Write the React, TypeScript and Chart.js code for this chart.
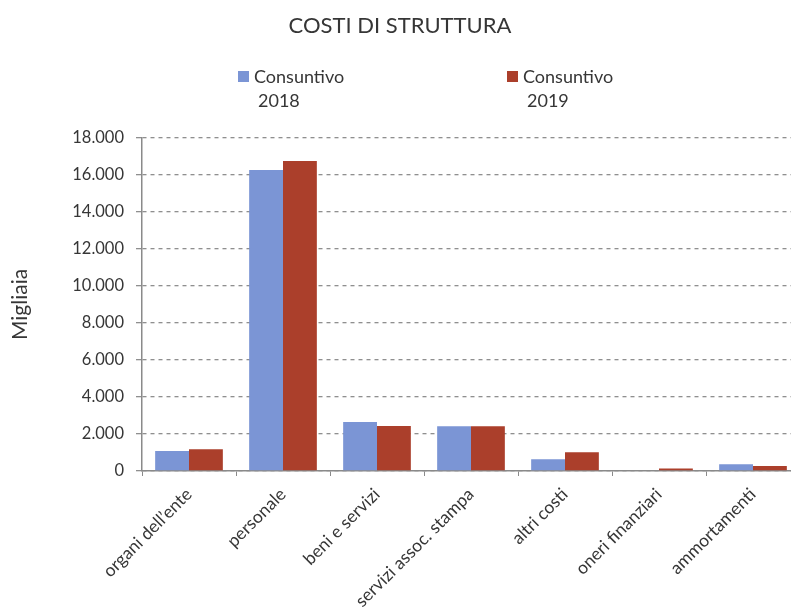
import React, { useEffect, useRef } from "react";
import { Chart, registerables } from "chart.js";

Chart.register(...registerables);

const titleText = "COSTI DI STRUTTURA";
const yAxisTitle = "Migliaia";
const categories = [
  "organi dell’ente",
  "personale",
  "beni e servizi",
  "servizi assoc. stampa",
  "altri costi",
  "oneri finanziari",
  "ammortamenti",
];
const values2018 = [1080, 16270, 2650, 2420, 630, 40, 360];
const values2019 = [1170, 16760, 2430, 2420, 1010, 130, 270];
const seriesNames = [
  ["Consuntivo", "2018"],
  ["Consuntivo", "2019"],
];
const seriesColors = ["#7b95d5", "#ab3f2b"];
const yMin = 0;
const yMax = 18000;
const yStep = 2000;

const FONT = "Lato, 'DejaVu Sans', sans-serif";
const TEXT = "#363636";

function fmt(v: number) {
  return String(Math.round(v)).replace(/\B(?=(\d{3})+(?!\d))/g, ".");
}

const overlayPlugin = {
  id: "overlay",
  afterDraw(chart: any) {
    const ctx = chart.ctx;
    ctx.save();
    ctx.fillStyle = TEXT;
    ctx.textBaseline = "alphabetic";
    ctx.font = `22px ${FONT}`;
    ctx.textAlign = "center";
    ctx.fillText(titleText, 400, 33);

    const legendX = [238, 507];
    ctx.font = `18px ${FONT}`;
    ctx.textAlign = "left";
    seriesNames.forEach((lines, i) => {
      const x = legendX[i];
      ctx.fillStyle = seriesColors[i];
      ctx.fillRect(x, 71, 11, 11);
      ctx.fillStyle = TEXT;
      ctx.fillText(lines[0], x + 16, 83);
      ctx.fillText(lines[1], x + 20, 107);
    });
    ctx.restore();
  },
};

export default function App() {
  const ref = useRef<HTMLCanvasElement | null>(null);
  useEffect(() => {
    if (!ref.current) return;
    const chart = new Chart(ref.current, {
      type: "bar",
      data: {
        labels: categories,
        datasets: [
          {
            label: seriesNames[0].join(" "),
            data: values2018,
            backgroundColor: seriesColors[0],
            categoryPercentage: 0.72,
            barPercentage: 1,
          },
          {
            label: seriesNames[1].join(" "),
            data: values2019,
            backgroundColor: seriesColors[1],
            categoryPercentage: 0.72,
            barPercentage: 1,
          },
        ],
      },
      options: {
        animation: false,
        responsive: true,
        maintainAspectRatio: false,
        layout: { padding: { top: 138, left: 0, right: 0, bottom: 0 } },
        plugins: {
          legend: { display: false },
          title: { display: false },
          tooltip: { enabled: false },
        },
        scales: {
          x: {
            grid: {
              display: true,
              drawOnChartArea: false,
              drawTicks: true,
              tickLength: 5,
              color: "#8a8a8a",
              offset: true,
            },
            border: { display: true, color: "#8a8a8a", width: 1.5 },
            ticks: {
              maxRotation: 45,
              minRotation: 45,
              autoSkip: false,
              color: TEXT,
              font: { family: FONT, size: 17.5 },
              padding: 8,
            },
            afterFit(scale: any) {
              scale.height = 143;
            },
          },
          y: {
            min: yMin,
            max: yMax,
            ticks: {
              stepSize: yStep,
              color: TEXT,
              font: { family: FONT, size: 16.5 },
              padding: 12,
              callback: (v: any) => fmt(Number(v)),
            },
            grid: {
              color: "#8f8f8f",
              lineWidth: 1.3,
              tickLength: 6,
            },
            border: { display: true, color: "#8a8a8a", width: 1.5, dash: [4, 4] },
            title: {
              display: true,
              text: yAxisTitle,
              color: TEXT,
              font: { family: FONT, size: 21 },
              padding: { top: 8, bottom: 0 },
            },
            afterFit(scale: any) {
              scale.width = 142;
            },
          },
        },
      },
      plugins: [overlayPlugin],
    } as any);
    return () => chart.destroy();
  }, []);

  return (
    <div
      style={{
        position: "fixed",
        left: 0,
        top: 0,
        width: 791,
        height: 614,
        overflow: "hidden",
        background: "#fff",
      }}
    >
      <div style={{ position: "relative", width: 800, height: 614 }}>
        <canvas ref={ref} />
      </div>
    </div>
  );
}
